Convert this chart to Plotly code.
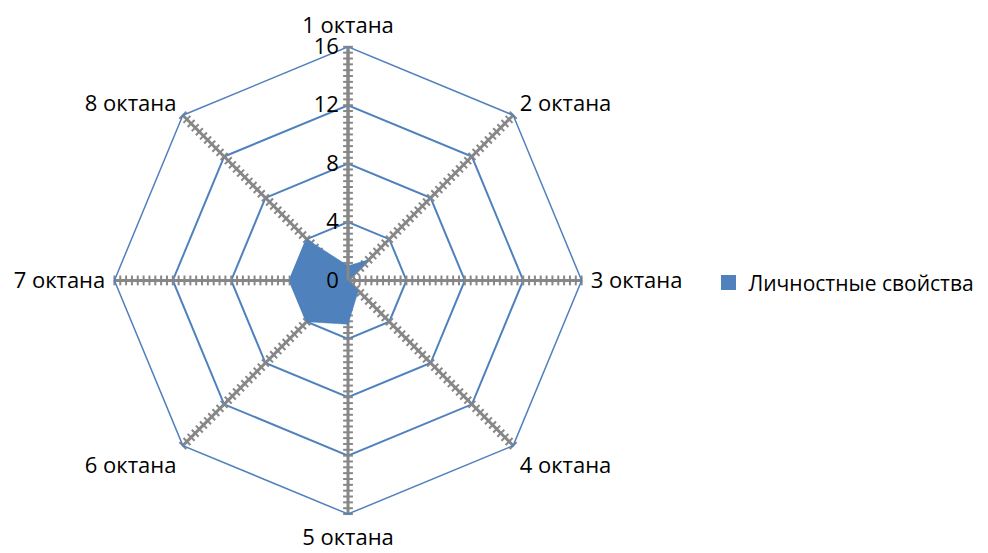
import numpy as np
import plotly.graph_objects as go

categories = ["1 октана", "2 октана", "3 октана", "4 октана",
              "5 октана", "6 октана", "7 октана", "8 октана"]
values = [1, 2, 0, 1, 3, 4, 4, 4]
series_name = "Личностные свойства"
radial_ticks = [0, 4, 8, 12, 16]
minor_step = 0.4

BLUE = "#4F81BD"
GRAY = "#878787"
FONT = "Open Sans"
FS = 22

fig = go.Figure()

# hatch marks along spokes
minor_r = np.arange(minor_step, radial_ticks[-1] + 1e-9, minor_step)
for i, cat in enumerate(categories):
    bearing = i * 360 / len(categories)
    fig.add_trace(go.Scatterpolar(
        r=minor_r, theta=[cat] * len(minor_r), mode="markers",
        marker=dict(symbol="line-ns", size=7, angle=bearing + 90,
                    line=dict(color=GRAY, width=2)),
        hoverinfo="skip", showlegend=False))

fig.add_trace(go.Scatterpolar(
    r=values + [values[0]], theta=categories + [categories[0]],
    mode="lines", fill="toself", fillcolor=BLUE,
    line=dict(color=BLUE, width=0.5), name=series_name, showlegend=False))

# legend entry (square swatch)
fig.add_trace(go.Scatterpolar(
    r=[None], theta=[categories[0]], mode="markers",
    marker=dict(symbol="square", size=15, color=BLUE),
    name=series_name, showlegend=True))

fig.update_layout(
    width=988, height=553,
    margin=dict(l=0, r=0, t=0, b=0),
    paper_bgcolor="white",
    font=dict(family=FONT, size=FS, color="black"),
    polar=dict(
        domain=dict(x=[0.1077, 0.5806], y=[0.0842, 0.9305]),
        bgcolor="white",
        gridshape="linear",
        angularaxis=dict(direction="clockwise", rotation=90,
                         categoryorder="array", categoryarray=categories,
                         showline=True, linecolor=BLUE, linewidth=1.5,
                         gridcolor=GRAY, gridwidth=3,
                         ticks="outside", ticklen=4, tickcolor="rgba(0,0,0,0)",
                         tickfont=dict(size=FS, family=FONT)),
        radialaxis=dict(range=[0, 16], tickvals=radial_ticks, angle=90,
                        tickangle=90, side="counterclockwise",
                        showline=True, linecolor=GRAY, linewidth=3,
                        gridcolor=BLUE, gridwidth=1.5, ticks="",
                        tickfont=dict(size=FS, family=FONT)),
    ),
    legend=dict(x=0.709, y=0.503, xanchor="left", yanchor="middle",
                font=dict(size=21, family=FONT), itemwidth=30),
    showlegend=True,
)

fig.write_html("out.html")
